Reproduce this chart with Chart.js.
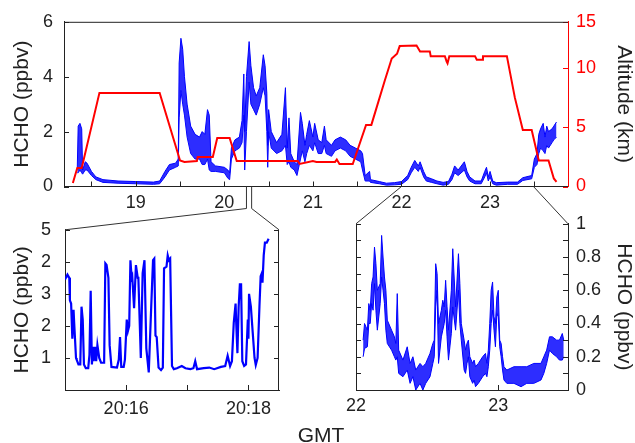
<!DOCTYPE html>
<html>
<head>
<meta charset="UTF-8">
<title>HCHO and altitude</title>
<style>
  body { margin: 0; background: #fff; font-family: "Liberation Sans", Arial, sans-serif; }
  #wrap { position: relative; width: 635px; height: 443px; overflow: hidden; }
  canvas { position: absolute; }
  #top { left: 0; top: 0; }
  #zoomLeft { left: 0; top: 205px; }
  #zoomRight { left: 300px; top: 205px; }
  #links { position: absolute; left: 0; top: 0; pointer-events: none; }
  #gmt { position: absolute; left: 0; width: 642px; top: 423px; line-height: 24px; text-align: center; font-size: 21px; color: #222; }
</style>
</head>
<body>
<div id="wrap">
  <canvas id="top" width="635" height="210"></canvas>
  <canvas id="zoomLeft" width="300" height="238"></canvas>
  <canvas id="zoomRight" width="335" height="238"></canvas>
  <svg id="links" width="635" height="443"></svg>
  <div id="gmt">GMT</div>
</div>

<script src="https://cdn.jsdelivr.net/npm/chart.js"></script>
<script>
  // top panel: HCHO envelope (ppbv) vs hour GMT
  const hchoTime = [18.34, 18.35, 18.37, 18.39, 18.40, 18.43, 18.45, 18.5, 18.55, 18.63, 18.8, 19.0, 19.2, 19.27, 19.33, 19.38, 19.45, 19.48,
    19.49, 19.51, 19.53, 19.55, 19.58, 19.62, 19.67, 19.72, 19.75, 19.78, 19.81, 19.83, 19.85, 19.9, 20.0, 20.04, 20.06, 20.08,
    20.12, 20.17, 20.2, 20.22, 20.23, 20.25, 20.28, 20.3, 20.33, 20.36, 20.4, 20.44, 20.46, 20.48, 20.49, 20.5, 20.53, 20.59,
    20.65, 20.69, 20.71, 20.73, 20.75, 20.79, 20.82, 20.86, 20.88, 20.91, 20.93, 20.96, 21.0, 21.02, 21.06, 21.1, 21.13, 21.15,
    21.21, 21.25, 21.31, 21.37, 21.42, 21.48, 21.54, 21.56, 21.59, 21.64, 21.65, 21.75, 21.83, 21.92, 22.0, 22.07, 22.11, 22.15,
    22.19, 22.21, 22.25, 22.28, 22.34, 22.4, 22.47, 22.53, 22.57, 22.6, 22.64, 22.71, 22.74, 22.77, 22.83, 22.9, 22.94, 22.96,
    22.98, 23.0, 23.03, 23.07, 23.2, 23.31, 23.37, 23.47, 23.5, 23.53, 23.55, 23.57, 23.6, 23.62, 23.64, 23.66, 23.7, 23.72, 23.75];
  const hchoLow = [0.5, 0.5, 0.6, 0.5, 0.45, 0.6, 0.6, 0.4, 0.25, 0.15, 0.12, 0.1, 0.08, 0.1, 0.35, 0.6, 0.7, 0.75,
    2.5, 3.5, 3.0, 2.6, 1.8, 1.2, 1.0, 1.0, 0.8, 0.8, 1.0, 0.6, 0.55, 0.55, 0.5, 0.3, 0.25, 1.0,
    1.3, 1.4, 1.6, 2.6, 0.6, 2.0, 3.8, 3.0, 2.8, 2.6, 3.0, 3.6, 3.3, 2.0, 0.7, 2.0, 1.4, 1.2,
    1.3, 1.5, 0.8, 0.9, 0.7, 0.6, 0.4, 1.0, 1.3, 0.9, 1.2, 1.5, 1.3, 1.6, 1.2, 1.2, 1.5, 1.2,
    1.1, 1.3, 1.4, 1.3, 1.1, 1.0, 0.9, 0.6, 0.2, 0.2, 0.15, 0.1, 0.05, 0.06, 0.08, 0.25, 0.5, 0.7,
    0.55, 0.7, 0.35, 0.2, 0.15, 0.1, 0.05, 0.08, 0.25, 0.5, 0.4, 0.6, 0.35, 0.2, 0.1, 0.1, 0.35, 0.5,
    0.2, 0.35, 0.1, 0.05, 0.08, 0.08, 0.22, 0.28, 0.7, 0.8, 1.2, 1.4, 1.3, 1.2, 1.5, 1.4, 1.6, 1.7, 1.8];
  const hchoHigh = [0.7, 2.2, 2.3, 2.1, 0.6, 0.9, 0.85, 0.55, 0.35, 0.25, 0.2, 0.18, 0.16, 0.2, 0.55, 0.8, 0.85, 1.0,
    4.5, 5.4, 5.0, 4.0, 3.0, 2.2, 1.9, 1.8, 2.0, 1.9, 2.8, 2.6, 0.9, 0.75, 0.7, 0.6, 0.5, 1.4,
    1.7, 1.8, 2.4, 4.1, 2.0, 4.0, 5.28, 4.4, 3.6, 3.3, 3.6, 4.8, 4.4, 3.4, 1.5, 2.8, 2.0, 1.6,
    1.9, 3.6, 1.4, 2.5, 1.2, 0.9, 0.8, 2.7, 2.3, 1.5, 1.9, 2.4, 1.8, 2.3, 1.7, 1.6, 2.2, 1.7,
    1.5, 1.7, 1.8, 1.7, 1.5, 1.4, 1.3, 1.2, 0.4, 0.55, 0.25, 0.18, 0.12, 0.14, 0.18, 0.4, 0.7, 0.95,
    0.75, 0.9, 0.55, 0.35, 0.28, 0.2, 0.15, 0.18, 0.45, 0.75, 0.6, 0.9, 0.55, 0.35, 0.2, 0.2, 0.55, 0.7,
    0.35, 0.55, 0.2, 0.14, 0.16, 0.16, 0.32, 0.4, 1.0, 1.2, 1.9, 2.1, 2.3, 1.8, 2.2, 2.0, 2.1, 2.2, 2.35];

  // aircraft altitude (km)
  const altTime = [18.29, 18.34, 18.39, 18.59, 19.27, 19.5, 19.55, 19.69, 19.7, 19.87, 19.92, 20.06, 20.14, 20.83, 20.85, 21.0,
    21.04, 21.25, 21.27, 21.3, 21.45, 21.6, 21.66, 21.81, 21.89, 21.95, 21.98, 22.17, 22.21, 22.32, 22.33, 22.49, 22.51, 22.52,
    22.54, 22.83, 22.85, 22.91, 22.92, 23.19, 23.28, 23.37, 23.47, 23.55, 23.66, 23.72, 23.75];
  const altKm = [0.3, 1.57, 1.57, 7.9, 7.9, 2.2, 2.07, 2.15, 2.5, 2.5, 4.1, 4.1, 2.15, 2.15, 1.9, 2.15,
    2.07, 2.07, 2.27, 1.9, 1.9, 5.2, 5.2, 8.9, 10.8, 11.2, 11.85, 11.9, 11.4, 11.4, 11.0, 11.0, 10.55, 10.4,
    11.0, 11.0, 10.7, 10.7, 11.0, 11.0, 7.5, 4.77, 4.77, 2.2, 2.2, 0.68, 0.4];

  // bottom left: 20:15 - 20:18:30, minutes after 20:00
  const zoomMin = [15.0, 15.04, 15.07, 15.08, 15.1, 15.12, 15.14, 15.15, 15.18, 15.19, 15.22, 15.25, 15.27, 15.29, 15.31, 15.34,
    15.38, 15.4, 15.42, 15.44, 15.46, 15.47, 15.49, 15.51, 15.53, 15.56, 15.59, 15.64, 15.66, 15.68, 15.71, 15.73, 15.76, 15.85,
    15.88, 15.9, 15.92, 15.96, 15.98, 16.01, 16.03, 16.05, 16.07, 16.09, 16.1, 16.13, 16.16, 16.19, 16.2, 16.24, 16.27, 16.3,
    16.33, 16.37, 16.41, 16.44, 16.46, 16.48, 16.5, 16.53, 16.57, 16.6, 16.62, 16.66, 16.68, 16.7, 16.72, 16.75, 16.78, 16.83,
    16.91, 16.97, 17.05, 17.1, 17.13, 17.16, 17.27, 17.36, 17.44, 17.55, 17.62, 17.66, 17.7, 17.73, 17.76, 17.79, 17.8, 17.82,
    17.84, 17.86, 17.88, 17.9, 17.93, 17.96, 17.99, 18.0, 18.01, 18.04, 18.07, 18.1, 18.12, 18.15, 18.18, 18.2, 18.22, 18.23,
    18.25, 18.27, 18.3, 18.33];
  const zoomHcho = [3.45, 3.6, 3.5, 2.8, 2.7, 1.6, 2.5, 2.1, 1.0, 0.95, 0.8, 0.8, 2.6, 2.2, 0.8, 0.68,
    0.68, 1.1, 3.1, 0.8, 1.35, 0.9, 1.35, 0.9, 1.4, 1.0, 0.85, 0.85, 3.95, 3.9, 3.5, 1.4, 0.72, 0.7,
    0.95, 1.65, 0.72, 0.72, 0.95, 2.2, 1.85, 2.0, 4.05, 3.5, 3.55, 2.55, 3.9, 3.5, 3.5, 1.0, 3.65, 4.05,
    1.3, 0.55, 2.6, 4.05, 4.1, 1.7, 1.65, 0.7, 0.62, 0.7, 3.8, 3.85, 4.2, 4.05, 4.1, 0.75, 0.65, 0.68,
    0.75, 0.68, 0.65, 0.68, 0.9, 0.65, 0.68, 0.7, 0.65, 0.72, 0.75, 1.07, 0.75, 0.9, 2.1, 2.7, 2.1, 1.15,
    2.6, 3.3, 3.3, 0.9, 0.75, 0.8, 2.2, 1.6, 3.0, 2.6, 1.8, 1.0, 0.78, 1.0, 2.6, 3.55, 3.65, 3.35,
    4.2, 4.6, 4.6, 4.72];

  // bottom right: 22:00 - 23:30, envelope (ppbv)
  const lowTime = [22.05, 22.06, 22.08, 22.09, 22.1, 22.11, 22.12, 22.13, 22.14, 22.15, 22.17, 22.18, 22.19, 22.2, 22.21, 22.22,
    22.25, 22.27, 22.28, 22.29, 22.3, 22.33, 22.36, 22.38, 22.4, 22.42, 22.45, 22.47, 22.49, 22.52, 22.54, 22.55, 22.56, 22.57,
    22.58, 22.6, 22.61, 22.62, 22.63, 22.64, 22.65, 22.67, 22.68, 22.7, 22.72, 22.73, 22.74, 22.76, 22.77, 22.78, 22.79, 22.8,
    22.82, 22.83, 22.84, 22.86, 22.89, 22.91, 22.92, 22.93, 22.94, 22.95, 22.96, 22.97, 22.98, 22.99, 23.0, 23.01, 23.02, 23.03,
    23.04, 23.06, 23.11, 23.16, 23.2, 23.25, 23.3, 23.32, 23.34, 23.36, 23.38, 23.41, 23.43, 23.45, 23.46];
  const lowMin = [0.2, 0.25, 0.26, 0.4, 0.4, 0.52, 0.48, 0.64, 0.48, 0.36, 0.52, 0.68, 0.6, 0.52, 0.36, 0.28,
    0.24, 0.2, 0.18, 0.2, 0.1, 0.08, 0.12, 0.04, 0.08, 0.0, 0.04, 0.0, 0.04, 0.08, 0.16, 0.2, 0.5, 0.6,
    0.16, 0.32, 0.36, 0.4, 0.48, 0.32, 0.18, 0.34, 0.5, 0.36, 0.6, 0.4, 0.3, 0.12, 0.1, 0.16, 0.2, 0.08,
    0.04, 0.06, 0.02, 0.04, 0.08, 0.1, 0.08, 0.14, 0.24, 0.4, 0.48, 0.36, 0.26, 0.46, 0.44, 0.26, 0.2, 0.12,
    0.06, 0.04, 0.04, 0.02, 0.04, 0.04, 0.06, 0.1, 0.16, 0.24, 0.22, 0.2, 0.18, 0.18, 0.2];
  const lowMax = [0.3, 0.4, 0.36, 0.52, 0.48, 0.64, 0.68, 0.86, 0.76, 0.6, 0.64, 0.93, 0.8, 0.68, 0.6, 0.42,
    0.36, 0.32, 0.28, 0.58, 0.24, 0.18, 0.26, 0.16, 0.2, 0.12, 0.16, 0.14, 0.16, 0.22, 0.28, 0.3, 0.76, 0.7,
    0.4, 0.48, 0.54, 0.5, 0.66, 0.5, 0.36, 0.6, 0.85, 0.5, 0.82, 0.64, 0.4, 0.3, 0.24, 0.28, 0.3, 0.2,
    0.16, 0.18, 0.14, 0.16, 0.2, 0.22, 0.16, 0.24, 0.4, 0.6, 0.65, 0.44, 0.4, 0.56, 0.6, 0.3, 0.28, 0.2,
    0.14, 0.12, 0.14, 0.14, 0.14, 0.16, 0.16, 0.2, 0.24, 0.32, 0.32, 0.3, 0.3, 0.34, 0.3];

  // axes
  const topRange = [18.19, 23.88];
  const topTicks = [18.5, 19, 19.5, 20, 20.5, 21, 21.5, 22, 22.5, 23, 23.5];
  const topTickLabels = ['', '19', '', '20', '', '21', '', '22', '', '23', ''];
  const hchoTicks = [0, 2, 4, 6];
  const altMax = 13.9;
  const altTicks = [0, 5, 10, 13.9];
  const altTickLabels = ['0', '5', '10', '15'];
  const zoomRange = [15, 18.5];
  const zoomTicks = [16, 17, 18];
  const zoomTickLabels = ['20:16', '', '20:18'];
  const zoomYTicks = [1, 2, 3, 4, 5];
  const zoomYLabels = ['1', '2', '3', '2', '5'];
  const lowRange = [22, 23.49];
  const lowTicks = [22, 23];
  const lowTickLabels = ['22', '23'];
  const lowYTicks = [0, 0.1, 0.2, 0.3, 0.4, 0.5, 0.6, 0.7, 0.8, 0.9, 1];
  const lowYLabels = ['0', '', '0.2', '', '0.4', '', '0.6', '', '0.8', '', '1'];

  const BLUE = '#0000ff';
  const BAND = 'rgba(10, 10, 255, 0.86)';
  const RED = '#ff0000';
  const INK = '#222';
  const tickFont = { family: '"Liberation Sans", Arial, sans-serif', size: 18 };
  const titleFont = { family: '"Liberation Sans", Arial, sans-serif', size: 21, lineHeight: 1 };

  const pts = (xs, ys) => xs.map((x, i) => ({ x: x, y: ys[i] }));

  // inward tick marks and extra frame sides
  const frameTicks = {
    id: 'frameTicks',
    afterDatasetsDraw(chart, args, opts) {
      const ctx = chart.ctx;
      const a = chart.chartArea;
      ctx.save();
      ctx.lineWidth = 1;
      (opts.marks || []).forEach(m => {
        const s = chart.scales[m.scale];
        ctx.strokeStyle = m.color || INK;
        ctx.beginPath();
        s.ticks.forEach(t => {
          const p = Math.round(s.getPixelForValue(t.value)) + 0.5;
          m.sides.forEach(side => {
            if (side === 'bottom') { ctx.moveTo(p, a.bottom); ctx.lineTo(p, a.bottom - 5); }
            if (side === 'left') { ctx.moveTo(a.left, p); ctx.lineTo(a.left + 5, p); }
            if (side === 'right') { ctx.moveTo(a.right, p); ctx.lineTo(a.right - 5, p); }
          });
        });
        ctx.stroke();
      });
      ctx.strokeStyle = INK;
      ctx.beginPath();
      (opts.frame || []).forEach(side => {
        if (side === 'top') { ctx.moveTo(a.left, a.top + 0.5); ctx.lineTo(a.right, a.top + 0.5); }
        if (side === 'left') { ctx.moveTo(a.left + 0.5, a.top); ctx.lineTo(a.left + 0.5, a.bottom); }
        if (side === 'right') { ctx.moveTo(a.right - 0.5, a.top); ctx.lineTo(a.right - 0.5, a.bottom); }
      });
      ctx.stroke();
      ctx.restore();
    }
  };

  function axis(range, values, labels, extra) {
    return Object.assign({
      type: 'linear',
      min: range[0],
      max: range[1],
      afterBuildTicks: s => { s.ticks = values.map(v => ({ value: v })); },
      grid: { display: false, drawTicks: false },
      border: { display: true, color: INK, width: 1 },
      ticks: { font: tickFont, color: INK, autoSkip: false, maxRotation: 0, padding: 6,
        callback: (v, i) => labels[i] }
    }, extra);
  }

  const topChart = new Chart(document.getElementById('top'), {
    type: 'line',
    data: {
      datasets: [
        { label: 'Altitude', data: pts(altTime, altKm), yAxisID: 'y2', borderColor: RED, borderWidth: 2, pointRadius: 0, order: 0 },
        { label: 'HCHO low', data: pts(hchoTime, hchoLow), yAxisID: 'y', borderColor: BLUE, borderWidth: 1, pointRadius: 0, order: 2 },
        { label: 'HCHO high', data: pts(hchoTime, hchoHigh), yAxisID: 'y', borderColor: BLUE, borderWidth: 1, pointRadius: 0,
          fill: '-1', backgroundColor: BAND, order: 1 }
      ]
    },
    options: {
      responsive: false,
      animation: false,
      layout: { padding: { top: 20 } },
      plugins: {
        legend: { display: false },
        tooltip: { enabled: false },
        frameTicks: { frame: ['top'], marks: [
          { scale: 'x', sides: ['bottom'] },
          { scale: 'y', sides: ['left'] },
          { scale: 'y2', sides: ['right'], color: RED }
        ] }
      },
      scales: {
        x: axis(topRange, topTicks, topTickLabels, { afterFit: s => { s.height = 23.5; } }),
        y: axis([0, 6], hchoTicks, hchoTicks.map(String), {
          position: 'left',
          afterFit: s => { s.width = 64; },
          title: { display: true, text: 'HCHO (ppbv)', font: titleFont, color: INK, padding: { top: 11.5, bottom: 0 } }
        }),
        y2: axis([0, altMax], altTicks, altTickLabels, {
          position: 'right',
          afterFit: s => { s.width = 67; },
          border: { display: true, color: RED, width: 1 },
          title: { display: true, text: 'Altitude (km)', font: titleFont, color: INK, padding: { top: 0.5, bottom: 0 } }
        })
      }
    },
    plugins: [frameTicks]
  });
  topChart.options.scales.y.ticks.padding = 11;
  topChart.options.scales.y2.ticks.padding = 8;
  topChart.options.scales.y2.ticks.color = RED;
  topChart.update();

  const leftChart = new Chart(document.getElementById('zoomLeft'), {
    type: 'line',
    data: {
      datasets: [
        { label: 'HCHO', data: pts(zoomMin, zoomHcho), borderColor: BLUE, borderWidth: 2.2, pointRadius: 0 }
      ]
    },
    options: {
      responsive: false,
      animation: false,
      layout: { padding: { top: 18, right: 21 } },
      plugins: {
        legend: { display: false },
        tooltip: { enabled: false },
        frameTicks: { frame: ['right'], marks: [
          { scale: 'x', sides: ['bottom'] },
          { scale: 'y', sides: ['left', 'right'] }
        ] }
      },
      scales: {
        x: axis(zoomRange, zoomTicks, zoomTickLabels, { afterFit: s => { s.height = 53; } }),
        y: axis([0, 5], zoomYTicks, zoomYLabels, {
          position: 'left',
          afterFit: s => { s.width = 65; },
          title: { display: true, text: 'HCHO (ppbv)', font: titleFont, color: INK, padding: { top: 11.5, bottom: 0 } }
        })
      }
    },
    plugins: [frameTicks]
  });
  leftChart.options.scales.x.ticks.padding = 8;
  leftChart.options.scales.y.ticks.padding = 14;
  leftChart.update();

  const rightChart = new Chart(document.getElementById('zoomRight'), {
    type: 'line',
    data: {
      datasets: [
        { label: 'HCHO low', data: pts(lowTime, lowMin), borderColor: BLUE, borderWidth: 1, pointRadius: 0 },
        { label: 'HCHO high', data: pts(lowTime, lowMax), borderColor: BLUE, borderWidth: 1, pointRadius: 0,
          fill: '-1', backgroundColor: BAND }
      ]
    },
    options: {
      responsive: false,
      animation: false,
      layout: { padding: { top: 18, left: 56 } },
      plugins: {
        legend: { display: false },
        tooltip: { enabled: false },
        frameTicks: { frame: ['left'], marks: [
          { scale: 'x', sides: ['bottom'] },
          { scale: 'y', sides: ['left', 'right'] }
        ] }
      },
      scales: {
        x: axis(lowRange, lowTicks, lowTickLabels, { afterFit: s => { s.height = 53; } }),
        y: axis([0, 1], lowYTicks, lowYLabels, {
          position: 'right',
          afterFit: s => { s.width = 67; },
          title: { display: true, text: 'HCHO (ppbv)', font: titleFont, color: INK, padding: { top: 0.5, bottom: 0 } }
        })
      }
    },
    plugins: [frameTicks]
  });
  rightChart.options.scales.x.ticks.padding = 5;
  rightChart.options.scales.y.ticks.padding = 8;
  rightChart.update();

  // connector lines from the top panel to the two close-ups
  function drawLinks() {
    const svg = document.getElementById('links');
    const xs = topChart.scales.x;
    const tb = topChart.chartArea.bottom;
    const la = leftChart.chartArea, ra = rightChart.chartArea;
    const lTop = 205 + la.top, rTop = 205 + ra.top;
    const xa = xs.getPixelForValue(20 + zoomRange[0] / 60);
    const xb = xs.getPixelForValue(20 + zoomRange[1] / 60);
    const kink = tb + 22;
    const lines = [
      [[xa, tb], [xa, kink], [la.left, lTop]],
      [[xb, tb], [xb, kink], [la.right, lTop]],
      [[xs.getPixelForValue(lowRange[0]), tb], [300 + ra.left, rTop]],
      [[xs.getPixelForValue(lowRange[1]), tb], [300 + ra.right, rTop]]
    ];
    svg.innerHTML = lines.map(l =>
      '<polyline fill="none" stroke="#333" stroke-width="1" points="' + l.map(p => p.join(',')).join(' ') + '"/>'
    ).join('');
  }
  drawLinks();
</script>
</body>
</html>
